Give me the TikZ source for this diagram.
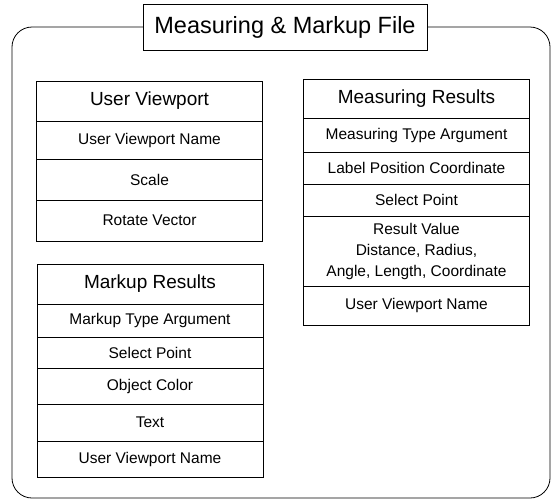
\documentclass[tikz,border=0pt]{standalone}
\usepackage{fontspec}
\setmainfont{Liberation Sans}
\usepackage{tikz}
\newlength{\rowwidth}
\setlength{\rowwidth}{226pt}
\tikzset{title/.style = {shape=rectangle,draw,fill=white,line width=0.8pt,minimum width=284pt,minimum height=46pt,inner sep=0pt,font=\fontsize{23.5}{26}\selectfont}}
\tikzset{frame/.style = {shape=rectangle,draw,line width=0.8pt,rounded corners=20pt,minimum width=538pt,minimum height=471pt}}
\tikzset{head/.style = {shape=rectangle,draw,line width=0.8pt,minimum width=\rowwidth,inner sep=0pt,font=\fontsize{19}{22}\selectfont}}
\tikzset{row/.style = {shape=rectangle,draw,line width=0.8pt,minimum width=\rowwidth,inner sep=0pt,align=center,font=\fontsize{15.5}{21}\selectfont}}

\begin{document}
\begin{tikzpicture}[x=1pt,y=-1pt]
            \useasboundingbox (0,0) rectangle (555,501);
            \node[frame] (file) at (281,262.5) {};
            \node[title] (t) at (285,27) {Measuring \& Markup File};
            \node[head,minimum height=40pt] (v) at (149.5,101) {User Viewport};
            \node[row,minimum height=38pt] (v1) at (149.5,140) {User Viewport Name};
            \node[row,minimum height=41pt] (v2) at (149.5,179.5) {Scale};
            \node[row,minimum height=41pt] (v3) at (149.5,220.5) {Rotate Vector};
            \node[head,minimum height=40pt] (k) at (150,284) {Markup Results};
            \node[row,minimum height=33pt] (k1) at (150,320.5) {Markup Type Argument};
            \node[row,minimum height=31pt] (k2) at (150,352.5) {Select Point};
            \node[row,minimum height=36pt] (k3) at (150,386) {Object Color};
            \node[row,minimum height=37pt] (k4) at (150,422.5) {Text};
            \node[row,minimum height=36pt] (k5) at (150,459) {User Viewport Name};
            \node[head,minimum height=39pt] (m) at (416.5,98.5) {Measuring Results};
            \node[row,minimum height=34pt] (m1) at (416.5,135) {Measuring Type Argument};
            \node[row,minimum height=32pt] (m2) at (416.5,168) {Label Position Coordinate};
            \node[row,minimum height=32pt] (m3) at (416.5,200) {Select Point};
            \node[row,minimum height=70pt] (m4) at (416.5,251) {Result Value\\Distance, Radius,\\Angle, Length, Coordinate};
            \node[row,minimum height=39pt] (m5) at (416.5,305.5) {User Viewport Name};
        \end{tikzpicture}
\end{document}
